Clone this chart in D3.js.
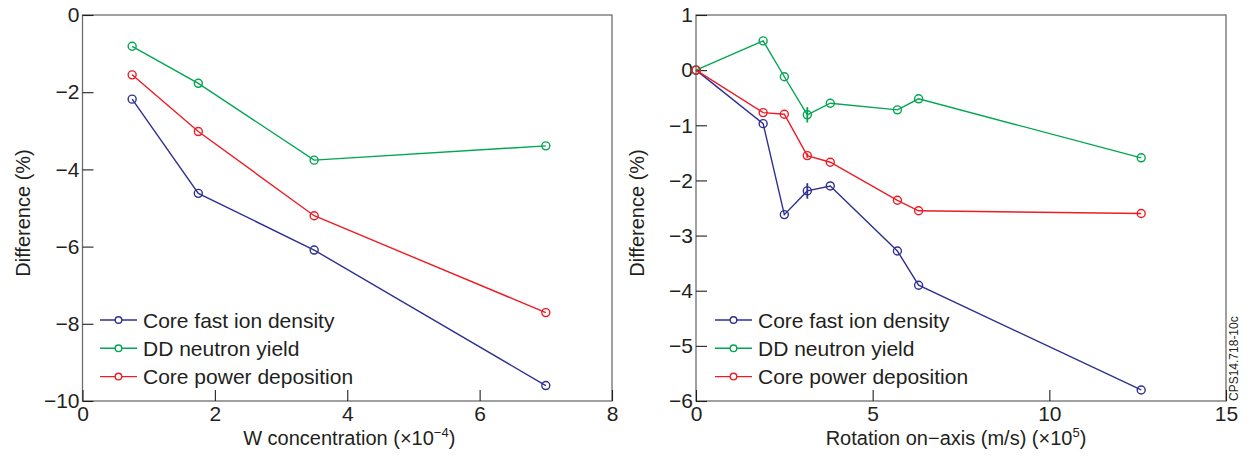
<!DOCTYPE html>
<html>
<head>
<meta charset="utf-8">
<script src="https://cdn.jsdelivr.net/npm/d3@7"></script>
<style>
  body { margin: 0; background: #fff; }
  text { font-family: "Liberation Sans", Arial, sans-serif; fill: #231f20; }
</style>
</head>
<body>
<div id="chart"></div>
<script>
// Series names and colours
var seriesNames = ["Core fast ion density", "DD neutron yield", "Core power deposition"];
var seriesColors = ["#2e3192", "#00a651", "#ed1c24"];

// Left panel: W concentration scan
var wConc = [0.75, 1.75, 3.5, 7.0];
var wFastIon = [-2.18, -4.62, -6.09, -9.6];
var wNeutron = [-0.81, -1.77, -3.76, -3.39];
var wPower = [-1.55, -3.02, -5.2, -7.71];
var wXTicks = [0, 2, 4, 6, 8];
var wYTicks = [0, -2, -4, -6, -8, -10];

// Right panel: rotation scan
var rotation = [0, 1.9, 2.5, 3.15, 3.8, 5.7, 6.3, 12.6];
var rotFastIon = [0, -0.97, -2.62, -2.19, -2.10, -3.28, -3.90, -5.8];
var rotNeutron = [0, 0.53, -0.12, -0.81, -0.60, -0.72, -0.52, -1.59];
var rotPower = [0, -0.77, -0.80, -1.55, -1.67, -2.36, -2.55, -2.6];
var rotFastIonErr = [0, 0, 0, 0.14, 0, 0, 0, 0];
var rotNeutronErr = [0, 0, 0, 0.14, 0, 0, 0, 0];
var rotPowerErr = [0, 0, 0, 0.04, 0, 0, 0, 0];
var rotXTicks = [0, 5, 10, 15];
var rotYTicks = [1, 0, -1, -2, -3, -4, -5, -6];

var width = 1248, height = 457;

var svg = d3.select("#chart")
    .append("svg")
    .attr("width", width)
    .attr("height", height);

function drawPanel(p) {
    var x = d3.scaleLinear().domain(p.xDomain).range([p.left, p.right]);
    var y = d3.scaleLinear().domain(p.yDomain).range([p.bottom, p.top]);
    var g = svg.append("g");
    var fmt = d3.format("d");

    // frame
    g.append("rect")
        .attr("x", p.left)
        .attr("y", p.top)
        .attr("width", p.right - p.left)
        .attr("height", p.bottom - p.top)
        .attr("fill", "none")
        .attr("stroke", "#6d6e71")
        .attr("stroke-width", 1.3);

    // axes with inward ticks
    var yAxis = g.append("g")
        .attr("transform", "translate(" + p.left + ",0)")
        .call(d3.axisLeft(y).tickValues(p.yTicks).tickFormat(fmt).tickSize(-11).tickPadding(3));
    var xAxis = g.append("g")
        .attr("transform", "translate(0," + p.bottom + ")")
        .call(d3.axisBottom(x).tickValues(p.xTicks).tickFormat(fmt).tickSize(-11).tickPadding(5));
    [xAxis, yAxis].forEach(function (a) {
        a.select(".domain").remove();
        a.selectAll(".tick line").attr("stroke", "#231f20").attr("stroke-width", 1.1);
        a.selectAll(".tick text")
            .style("font-size", "21px")
            .style("font-family", "Liberation Sans, Arial, sans-serif")
            .attr("fill", "#231f20");
    });
    xAxis.selectAll(".tick text").attr("dy", "0.72em");

    // series
    var line = d3.line()
        .x(function (d) { return x(d.x); })
        .y(function (d) { return y(d.y); });

    p.series.forEach(function (vals, i) {
        var pts = vals.map(function (v, j) {
            return { x: p.xs[j], y: v, e: p.errs ? p.errs[i][j] : 0 };
        });
        g.append("path")
            .datum(pts)
            .attr("d", line)
            .attr("fill", "none")
            .attr("stroke", seriesColors[i])
            .attr("stroke-width", 1.4);

        g.selectAll(null)
            .data(pts.filter(function (d) { return d.e > 0; }))
            .enter()
            .append("line")
            .attr("x1", function (d) { return x(d.x); })
            .attr("x2", function (d) { return x(d.x); })
            .attr("y1", function (d) { return y(d.y - d.e); })
            .attr("y2", function (d) { return y(d.y + d.e); })
            .attr("stroke", seriesColors[i])
            .attr("stroke-width", 1.8);

        g.selectAll(null)
            .data(pts)
            .enter()
            .append("circle")
            .attr("cx", function (d) { return x(d.x); })
            .attr("cy", function (d) { return y(d.y); })
            .attr("r", 4)
            .attr("fill", "none")
            .attr("stroke", seriesColors[i])
            .attr("stroke-width", 1.4);
    });

    // legend
    seriesNames.forEach(function (name, i) {
        var ly = p.legendY + i * 28.3;
        g.append("line")
            .attr("x1", p.legendX)
            .attr("x2", p.legendX + 37)
            .attr("y1", ly)
            .attr("y2", ly)
            .attr("stroke", seriesColors[i])
            .attr("stroke-width", 1.4);
        g.append("circle")
            .attr("cx", p.legendX + 18.5)
            .attr("cy", ly)
            .attr("r", 3.3)
            .attr("fill", "#fff")
            .attr("stroke", seriesColors[i])
            .attr("stroke-width", 1.4);
        g.append("text")
            .attr("x", p.legendX + 43)
            .attr("y", ly)
            .attr("dy", "0.36em")
            .style("font-size", "21px")
            .text(name);
    });

    // y title
    g.append("text")
        .attr("transform", "translate(" + (p.left - 52.5) + "," + ((p.top + p.bottom) / 2 + 5) + ") rotate(-90)")
        .attr("text-anchor", "middle")
        .style("font-size", "20px")
        .text("Difference (%)");

    // x title with superscript
    var xt = g.append("text")
        .attr("x", (p.left + p.right) / 2 + p.titleShift)
        .attr("y", 445)
        .attr("text-anchor", "middle")
        .style("font-size", "20px");
    xt.append("tspan").text(p.xTitle);
    xt.append("tspan").attr("dy", -8).style("font-size", "13px").text(p.xSup);
    xt.append("tspan").attr("dy", 8).text(")");
}

drawPanel({
    left: 82.5, right: 612, top: 15, bottom: 401,
    xDomain: [0, 8], yDomain: [-10, 0],
    xTicks: wXTicks, yTicks: wYTicks,
    xs: wConc,
    series: [wFastIon, wNeutron, wPower],
    legendX: 100, legendY: 320,
    xTitle: "W concentration (×10", xSup: "−4", titleShift: 2
});

drawPanel({
    left: 696, right: 1226, top: 15, bottom: 401,
    xDomain: [0, 15], yDomain: [-6, 1],
    xTicks: rotXTicks, yTicks: rotYTicks,
    xs: rotation,
    series: [rotFastIon, rotNeutron, rotPower],
    errs: [rotFastIonErr, rotNeutronErr, rotPowerErr],
    legendX: 715, legendY: 320,
    xTitle: "Rotation on−axis (m/s) (×10", xSup: "5", titleShift: -5
});

// figure id
svg.append("text")
    .attr("transform", "translate(1238,401) rotate(-90)")
    .style("font-size", "12px")
    .text("CPS14.718-10c");
</script>
</body>
</html>
